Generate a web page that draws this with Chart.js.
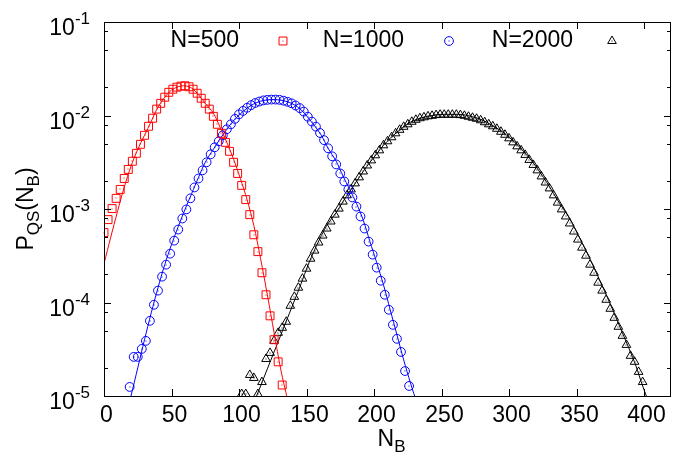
<!DOCTYPE html>
<html>
<head>
<meta charset="utf-8">
<script src="https://cdn.jsdelivr.net/npm/chart.js@4.4.0/dist/chart.umd.min.js"></script>
<style>
  html,body{margin:0;padding:0;background:#fff}
  #wrap{width:683px;height:464px}
</style>
</head>
<body>
<div id="wrap"><canvas id="c" width="683" height="464"></canvas></div>
<script>
// ── data ──
const X_TICKS = [0,50,100,150,200,250,300,350,400];
const Y_DECADES = [-1,-2,-3,-4,-5];
const Y_MINOR = [2,5,8];

// N=500 (red squares)
const N500_X = [0,3,6,9,12,15,18,21,24,27,30,33,36,39,42,45,48,51,54,57,60,63,66,69,72,75,78,81,84,87,90,93,96,99,102,105,108,111,114,117,120,123,126,129,132];
const N500_Y = [5.6e-4,7.7e-4,1.01e-3,1.30e-3,1.62e-3,2.12e-3,2.65e-3,3.24e-3,3.94e-3,4.92e-3,6.14e-3,7.67e-3,9.35e-3,1.17e-2,1.35e-2,1.57e-2,1.77e-2,1.91e-2,2.01e-2,2.06e-2,2.08e-2,2.03e-2,1.91e-2,1.73e-2,1.53e-2,1.35e-2,1.17e-2,9.8e-3,8.05e-3,6.45e-3,5.16e-3,4.14e-3,3.16e-3,2.40e-3,1.79e-3,1.26e-3,8.7e-4,5.3e-4,3.5e-4,2.08e-4,1.21e-4,7.2e-5,4.0e-5,2.32e-5,1.31e-5];
const FIT500_X = [0,5,10,15,20,25,30,35,40,45,50,55,60,65,70,75,81,86,91,96,101,106,111,116,121,126,131,136];
const FIT500_Y = [2.6e-4,5.0e-4,9.4e-4,1.72e-3,2.86e-3,4.35e-3,6.14e-3,8.67e-3,1.23e-2,1.57e-2,1.87e-2,2.03e-2,2.08e-2,1.96e-2,1.67e-2,1.35e-2,1.06e-2,7.48e-3,5.16e-3,3.40e-3,2.12e-3,1.26e-3,6.65e-4,2.94e-4,1.21e-4,4.74e-5,1.90e-5,9.06e-6];

// N=1000 (blue circles)
const N1000_X = [19,22,25,28,31,34,37,40,43,46,49,52,55,58,61,64,67,70,73,76,79,82,85,88,91,94,97,100,103,106,109,112,115,118,121,124,127,130,133,136,139,142,145,148,151,154,157,160,163,166,169,172,175,178,181,184,187,190,193,196,199,202,205,208,211,214,217,220,223,226];
const N1000_Y = [1.25e-5,2.62e-5,2.62e-5,3.19e-5,3.89e-5,6.37e-5,9.46e-5,1.34e-4,1.89e-4,2.54e-4,3.33e-4,4.59e-4,6.03e-4,7.91e-4,9.9e-4,1.30e-3,1.70e-3,2.12e-3,2.59e-3,3.16e-3,3.84e-3,4.57e-3,5.30e-3,6.14e-3,7.13e-3,8.05e-3,9.2e-3,1.03e-2,1.12e-2,1.21e-2,1.29e-2,1.36e-2,1.41e-2,1.45e-2,1.47e-2,1.48e-2,1.48e-2,1.47e-2,1.44e-2,1.40e-2,1.35e-2,1.28e-2,1.20e-2,1.10e-2,9.7e-3,8.6e-3,7.6e-3,6.5e-3,5.45e-3,4.46e-3,3.66e-3,3.00e-3,2.40e-3,1.97e-3,1.62e-3,1.33e-3,1.06e-3,8.32e-4,6.18e-4,4.48e-4,3.25e-4,2.36e-4,1.71e-4,1.21e-4,8.36e-5,5.77e-5,4.09e-5,2.96e-5,1.85e-5,1.28e-5];
const FIT1000_X = [20,25,30,35,40,45,50,55,60,65,70,75,81,86,91,96,101,106,111,116,121,126,131,136,141,146,151,156,161,166,172,177,182,187,192,197,202,207,212,217,222,227,232];
const FIT1000_Y = [1.0e-5,2.0e-5,4.0e-5,7.76e-5,1.44e-4,2.54e-4,4.16e-4,6.49e-4,9.9e-4,1.47e-3,2.18e-3,3.16e-3,4.35e-3,5.64e-3,7.13e-3,8.8e-3,1.04e-2,1.20e-2,1.33e-2,1.42e-2,1.47e-2,1.48e-2,1.46e-2,1.40e-2,1.30e-2,1.15e-2,9.57e-3,7.76e-3,6.14e-3,4.46e-3,3.24e-3,2.26e-3,1.62e-3,1.15e-3,7.62e-4,4.48e-4,2.67e-4,1.55e-4,8.36e-5,4.51e-5,2.43e-5,1.38e-5,8.2e-6];

// N=2000 (black triangles)
const N2000_X = [102,105,108,111,114,117,120,123,126,129,132,135,138,141,144,147,150,153,156,159,162,165,168,171,174,177,180,183,186,189,192,195,198,201,204,207,210,213,216,219,222,225,228,231,234,237,240,243,246,249,252,255,258,261,264,267,270,273,276,279,282,285,288,291,294,297,300,303,306,309,312,315,318,321,324,327,330,333,336,339,342,345,348,351,354,357,360,363,366,369,372,375,378,381,384,387,390,393,396,399];
const N2000_Y = [1.05e-5,1.05e-5,1.68e-5,1.56e-5,1.05e-5,1.41e-5,2.49e-5,2.89e-5,3.89e-5,4.74e-5,5.36e-5,6.22e-5,9.23e-5,1.15e-4,1.44e-4,1.80e-4,2.30e-4,2.94e-4,3.59e-4,4.38e-4,5.2e-4,6.18e-4,7.35e-4,8.7e-4,1.01e-3,1.20e-3,1.40e-3,1.62e-3,1.88e-3,2.18e-3,2.52e-3,2.92e-3,3.31e-3,3.75e-3,4.24e-3,4.80e-3,5.30e-3,5.85e-3,6.45e-3,7.03e-3,7.57e-3,8.05e-3,8.57e-3,9.0e-3,9.35e-3,9.57e-3,9.8e-3,9.93e-3,1.01e-2,1.02e-2,1.02e-2,1.02e-2,1.02e-2,1.02e-2,1.01e-2,9.93e-3,9.7e-3,9.46e-3,9.23e-3,8.89e-3,8.47e-3,8.05e-3,7.67e-3,7.21e-3,6.70e-3,6.22e-3,5.70e-3,5.16e-3,4.68e-3,4.24e-3,3.79e-3,3.35e-3,2.96e-3,2.59e-3,2.23e-3,1.92e-3,1.66e-3,1.40e-3,1.17e-3,9.9e-4,8.32e-4,7.0e-4,5.74e-4,4.71e-4,3.86e-4,3.17e-4,2.54e-4,2.08e-4,1.63e-4,1.34e-4,1.07e-4,8.57e-5,6.86e-5,5.5e-5,4.40e-5,3.52e-5,2.69e-5,2.32e-5,1.81e-5,1.41e-5];
const FIT2000_X = [113,116,121,126,131,136,141,146,151,156,161,166,172,177,182,187,192,197,202,207,212,217,222,227,232,237,242,247,252,257,263,268,273,278,283,288,293,298,303,308,313,318,323,328,333,338,344,349,354,359,364,369,374,379,384,389,394,399,404];
const FIT2000_Y = [1.0e-5,1.28e-5,1.95e-5,2.96e-5,4.51e-5,6.86e-5,1.04e-4,1.59e-4,2.48e-4,3.65e-4,5.2e-4,7.0e-4,9.17e-4,1.20e-3,1.54e-3,1.97e-3,2.52e-3,3.16e-3,3.89e-3,4.80e-3,5.70e-3,6.61e-3,7.57e-3,8.47e-3,9.12e-3,9.57e-3,9.93e-3,1.02e-2,1.03e-2,1.03e-2,1.03e-2,1.01e-2,9.7e-3,9.23e-3,8.57e-3,7.76e-3,7.03e-3,6.22e-3,5.36e-3,4.57e-3,3.79e-3,3.11e-3,2.46e-3,1.92e-3,1.47e-3,1.12e-3,8.32e-4,6.11e-4,4.38e-4,3.13e-4,2.19e-4,1.51e-4,1.04e-4,7.03e-5,4.74e-5,3.19e-5,2.1e-5,1.28e-5,8.2e-6];

const LEGEND = ['N=500','N=1000','N=2000'];
const RED = '#ff0000', BLUE = '#0000ff', BLACK = '#000000';
const FONT = '"Liberation Sans", Arial, Helvetica, sans-serif';
const FS = 23;   // text size used for every label

const pts = (xs, ys) => xs.map((x,i) => ({ x, y: ys[i] }));

function markerSet(label, xs, ys, color, style, r){
  return { label, data: pts(xs, ys), showLine:false, pointStyle:style, pointRadius:r,
    pointBorderColor:color, pointBackgroundColor:'rgba(0,0,0,0)', pointBorderWidth:1, _marker:true };
}
function fitSet(xs, ys, color){
  return { label:'', data: pts(xs, ys), showLine:true, pointRadius:0, borderColor:color,
    borderWidth:1, tension:0.3, fill:false };
}

// draw a string made of pieces, some sub/superscript
function richText(ctx, parts, x, y, size, align){
  const small = Math.round(size*0.72);
  let w = 0;
  parts.forEach(p => { ctx.font = (p.s||p.b ? small : size)+'px '+FONT; w += ctx.measureText(p.t).width; });
  let cx = align==='right' ? x-w : align==='center' ? x-w/2 : x;
  parts.forEach(p => {
    ctx.font = (p.s||p.b ? small : size)+'px '+FONT;
    const dy = p.s ? -size*0.4 : p.b ? size*0.3 : 0;
    ctx.fillText(p.t, cx, y+dy);
    cx += ctx.measureText(p.t).width;
  });
  return w;
}

function line(ctx, x1, y1, x2, y2){
  ctx.beginPath(); ctx.moveTo(x1,y1); ctx.lineTo(x2,y2); ctx.stroke();
}

const framePlugin = {
  id:'frame',
  afterDatasetsDraw(chart){
    const {ctx, chartArea:a, scales:{x, y}} = chart;
    ctx.save();
    // small dot in the middle of each marker
    chart.data.datasets.forEach((ds, i) => {
      if(!ds._marker) return;
      ctx.fillStyle = ds.pointBorderColor;
      chart.getDatasetMeta(i).data.forEach(el => {
        if(el.y > a.bottom+1 || el.y < a.top) return;
        ctx.fillRect(Math.round(el.x)-0.5, Math.round(el.y)-0.5, 1, 1);
      });
    });

    ctx.strokeStyle = '#000'; ctx.lineWidth = 1;
    ctx.strokeRect(a.left+0.5, a.top+0.5, a.right-a.left-1, a.bottom-a.top);
    ctx.fillStyle = '#000';
    ctx.textBaseline = 'middle';

    // x ticks + labels
    X_TICKS.forEach(v => {
      const px = Math.round(x.getPixelForValue(v))+0.5;
      line(ctx, px, a.bottom, px, a.bottom-7);
      line(ctx, px, a.top, px, a.top+7);
      ctx.font = FS+'px '+FONT; ctx.textAlign = 'center';
      ctx.fillText(String(v), px+2, a.bottom+20);
    });
    ctx.textAlign = 'left';

    // y ticks (log)
    Y_DECADES.forEach(e => {
      const py = Math.round(y.getPixelForValue(Math.pow(10,e)))+0.5;
      line(ctx, a.left, py, a.left+7, py);
      line(ctx, a.right, py, a.right-7, py);
      richText(ctx, [{t:'10'},{t:String(e), s:true}], a.left-14, py+6, FS, 'right');
      if(e > -5){
        Y_MINOR.forEach(m => {
          const q = Math.round(y.getPixelForValue(m*Math.pow(10,e-1)))+0.5;
          line(ctx, a.left, q, a.left+4, q);
          line(ctx, a.right, q, a.right-4, q);
        });
      }
    });

    // axis titles
    richText(ctx, [{t:'N'},{t:'B', b:true}], (a.left+a.right)/2+4, 440, FS, 'center');
    ctx.save();
    ctx.translate(27, (a.top+a.bottom)/2);
    ctx.rotate(-Math.PI/2);
    richText(ctx, [{t:'P'},{t:'QS', b:true},{t:'(N'},{t:'B', b:true},{t:')'}], 0, 0, FS, 'center');
    ctx.restore();

    // key: text, then marker sample
    const keyPos = [[239,283],[404,449],[573,612]];
    const sets = chart.data.datasets.filter(d => d._marker);
    sets.forEach((ds, i) => {
      ctx.font = FS+'px '+FONT; ctx.textAlign = 'right'; ctx.fillStyle = '#000';
      ctx.fillText(LEGEND[i], keyPos[i][0], 41);
      ctx.fillStyle = 'rgba(0,0,0,0)';
      ctx.strokeStyle = ds.pointBorderColor; ctx.lineWidth = 1;
      Chart.helpers.drawPoint(ctx, {pointStyle:ds.pointStyle, radius:ds.pointRadius, borderWidth:1},
        keyPos[i][1], 41);
      ctx.fillStyle = ds.pointBorderColor;
      ctx.fillRect(keyPos[i][1]-0.5, 40.5, 1, 1);
    });
    ctx.restore();
  }
};

new Chart(document.getElementById('c'), {
  type:'scatter',
  data:{ datasets:[
    markerSet(LEGEND[0], N500_X, N500_Y, RED, 'rect', 5.6),
    fitSet(FIT500_X, FIT500_Y, RED),
    markerSet(LEGEND[1], N1000_X, N1000_Y, BLUE, 'circle', 4.4),
    fitSet(FIT1000_X, FIT1000_Y, BLUE),
    markerSet(LEGEND[2], N2000_X, N2000_Y, BLACK, 'triangle', 5),
    fitSet(FIT2000_X, FIT2000_Y, BLACK)
  ]},
  options:{
    responsive:false, animation:false, devicePixelRatio:1,
    layout:{ padding:{ left:104, right:12, top:22, bottom:68 } },
    plugins:{ legend:{ display:false }, tooltip:{ enabled:false } },
    scales:{
      x:{ type:'linear', min:0, max:420, display:false },
      y:{ type:'logarithmic', min:1e-5, max:1e-1, display:false }
    }
  },
  plugins:[framePlugin]
});
</script>
</body>
</html>
